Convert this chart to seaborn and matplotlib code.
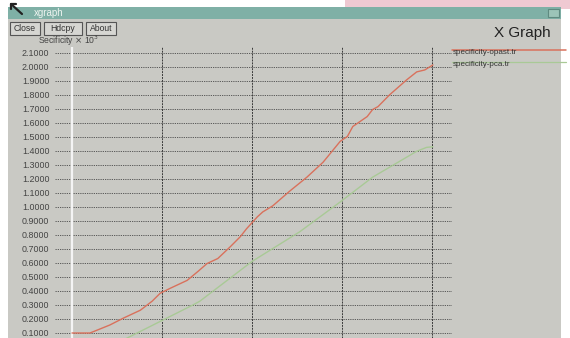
import numpy as np
import pandas as pd
import matplotlib
matplotlib.use("Agg")
import matplotlib.pyplot as plt
from matplotlib.patches import Rectangle
import seaborn as sns

# Trace values (specificity x 10^3 over time)
opast_x = [0.0, 2.0, 4.2, 5.7, 7.6, 8.9, 9.8, 10.9, 12.8, 14.0, 15.0, 16.2, 17.6,
           18.7, 19.4, 20.6, 21.2, 22.3, 24.2, 26.1, 27.9, 29.8, 30.6, 31.2, 32.8,
           33.4, 34.0, 35.3, 37.2, 38.3, 39.2, 40.1]
opast_y = [0.100, 0.100, 0.157, 0.206, 0.263, 0.327, 0.384, 0.419, 0.476, 0.540,
           0.596, 0.632, 0.717, 0.788, 0.845, 0.930, 0.965, 1.008, 1.114, 1.213,
           1.320, 1.469, 1.504, 1.575, 1.646, 1.696, 1.717, 1.802, 1.909, 1.965,
           1.979, 2.015]
pca_x = [6.0, 13.4, 14.2, 20.0, 25.3, 29.8, 33.4, 38.3, 39.4, 40.1]
pca_y = [0.060, 0.299, 0.327, 0.611, 0.823, 1.036, 1.213, 1.398, 1.426, 1.430]

series_names = ["specificity-opast.tr", "specificity-pca.tr"]
y_ticks = [round(0.1 * k, 1) for k in range(1, 22)]
x_grid = [10, 20, 30, 40]

W, H = 570, 338
sns.set_style("white")
plt.rcParams["font.family"] = ["Liberation Sans", "DejaVu Sans"]

fig = plt.figure(figsize=(W / 100, H / 100), dpi=100)
fig.patch.set_facecolor("white")

# Window chrome drawn in pixel coordinates on a background layer
bg = fig.add_axes([0, 0, 1, 1], zorder=0)
bg.set_xlim(0, W)
bg.set_ylim(H, 0)
bg.axis("off")
bg.add_patch(Rectangle((345, 0), 225, 9, color="#efc9d2", lw=0))
bg.add_patch(Rectangle((8, 18), 553, 320, color="#c9c9c4", lw=0))
bg.add_patch(Rectangle((8, 7), 553, 12, color="#7fb0a6", lw=0))
bg.add_patch(Rectangle((548, 9), 11, 8, facecolor="#9cc4b8", edgecolor="#5f8a80", lw=0.8))
bg.text(34, 13, "xgraph", fontsize=7, color="#eef4f0", va="center", ha="left")
bg.plot([11, 22], [4, 14], color="#222222", lw=1.6)
bg.plot([11, 11, 16], [9, 4, 4], color="#222222", lw=1.6)
for x0, w, label in [(10, 30, "Close"), (44, 38, "Hdcpy"), (86, 30, "About")]:
    bg.add_patch(Rectangle((x0, 22), w, 13, facecolor="#d6d6d2", edgecolor="#555555", lw=0.8))
    bg.text(x0 + w / 2, 28.5, label, fontsize=6.2, color="#333333", ha="center", va="center")
bg.text(38, 41, r"Secificity $\times$ 10$^3$", fontsize=6.2, color="#444444",
        ha="left", va="center")
bg.text(522, 33, "X Graph", fontsize=11, color="#222222", ha="center", va="center")

# Legend entries at the right of the plot area
colors = ["#d9715c", "#a9c996"]
bg.plot([452, 566], [50, 50], color=colors[0], lw=1.1)
bg.plot([452, 566], [62, 62], color=colors[1], lw=0.9)
bg.text(453, 53, series_names[0], fontsize=5.8, color="#333333", ha="left", va="center")
bg.text(453, 65, series_names[1], fontsize=5.8, color="#333333", ha="left", va="center")

# Plot area
px_left, px_right, px_top = 55, 452, 47
y_top_px, y_bot_px = 53, 333
ax = fig.add_axes([px_left / W, 0, (px_right - px_left) / W, 1 - px_top / H], zorder=1)
ax.set_facecolor("none")
x_per_px = 10 / 90.0
ax.set_xlim((px_left - 72) * x_per_px, (px_right - 72) * x_per_px)
y_per_px = 2.0 / (y_bot_px - y_top_px)
ax.set_ylim(0.1 - (H - y_bot_px) * y_per_px, 2.1 + (y_top_px - px_top) * y_per_px)

for yv in y_ticks:
    ax.axhline(yv, color="#4a4a4a", lw=0.6, ls=(0, (1.5, 1.2)), zorder=1)
for xv in x_grid:
    ax.axvline(xv, color="#3a3a3a", lw=0.7, ls=(0, (2, 1)), zorder=1)
ax.axvline(0, color="#f4f4f4", lw=1.6, zorder=1)

df = pd.concat([
    pd.DataFrame({"t": opast_x, "spec": opast_y, "trace": series_names[0]}),
    pd.DataFrame({"t": pca_x, "spec": pca_y, "trace": series_names[1]}),
])
sns.lineplot(data=df, x="t", y="spec", hue="trace", palette=colors, ax=ax,
             legend=False, sort=False, estimator=None, linewidth=1.0, zorder=3)

ax.set_yticks(y_ticks)
ax.set_yticklabels([f"{v:.4f}" for v in y_ticks], fontsize=6.4, color="#444444")
ax.tick_params(axis="y", length=0, pad=4)
ax.set_xticks([])
ax.set_xlabel("")
ax.set_ylabel("")
for s in ax.spines.values():
    s.set_visible(False)

fig.savefig("out.png", dpi=100)
